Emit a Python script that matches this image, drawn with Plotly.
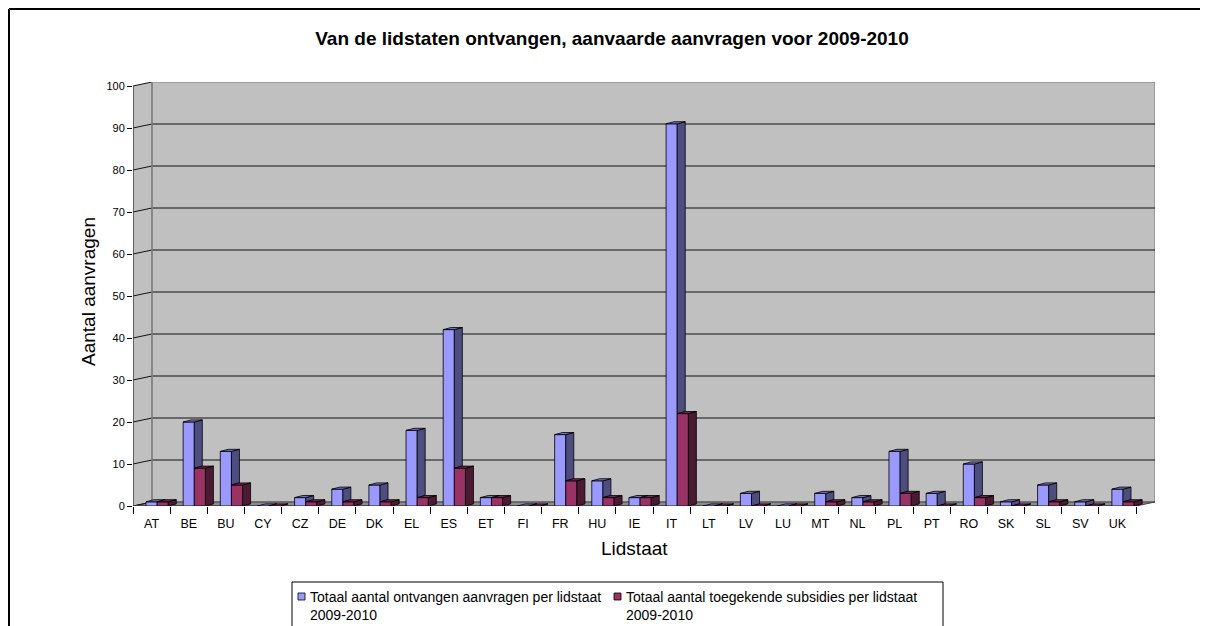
import plotly.graph_objects as go

# ---------------- data ----------------
categories = ["AT", "BE", "BU", "CY", "CZ", "DE", "DK", "EL", "ES", "ET", "FI", "FR", "HU", "IE",
              "IT", "LT", "LV", "LU", "MT", "NL", "PL", "PT", "RO", "SK", "SL", "SV", "UK"]
ontvangen = [1, 20, 13, 0, 2, 4, 5, 18, 42, 2, 0, 17, 6, 2, 91, 0, 3, 0, 3, 2, 13, 3, 10, 1, 5, 1, 4]
toegekend = [1, 9, 5, 0, 1, 1, 1, 2, 9, 2, 0, 6, 2, 2, 22, 0, 0, 0, 1, 1, 3, 0, 2, 0, 1, 0, 1]
y_ticks = list(range(0, 101, 10))
name_ontvangen = "Totaal aantal ontvangen aanvragen per lidstaat<br>2009-2010"
name_toegekend = "Totaal aantal toegekende subsidies per lidstaat<br>2009-2010"
title_text = "<b>Van de lidstaten ontvangen, aanvaarde aanvragen voor 2009-2010</b>"

# ---------------- styling / geometry ----------------
FONT = "Liberation Sans, Arial, sans-serif"
S = 8                                    # page body margin offset
W, H = 1208 - S, 626 - S
L, R, T, B = 133 - S, 1155 - S, 82 - S, 506 - S   # plot area in figure pixels
n = len(categories)
x_lo, x_front_hi = -0.5, n - 0.5
px_per_x = (1137 - 133) / n
dxw = 19 / px_per_x                      # depth offset of the back wall
y_top = 100
px_per_y = 420 / y_top
dyw = 4 / px_per_y
x_hi = x_front_hi + dxw
y_hi = y_top + dyw
bar_w = 0.30
ddx = 8 / px_per_x                       # depth of the bars
ddy = 2.1 / px_per_y

series = [
    dict(vals=ontvangen, off=-bar_w / 2, name=name_ontvangen,
         front="#9999FF", side="#4D4D80", top="#7373BF", leg_x=298),
    dict(vals=toegekend, off=bar_w / 2, name=name_toegekend,
         front="#993366", side="#4D1A33", top="#732650", leg_x=614),
]

fig = go.Figure()
# front faces as bars
for s in series:
    fig.add_trace(go.Bar(
        x=[i + s["off"] + bar_w / 2 for i in range(n)], y=s["vals"], width=bar_w,
        base=0, name=s["name"].replace("<br>", " "),
        marker=dict(color=s["front"], line=dict(color="black", width=0.8)),
        hoverinfo="skip", showlegend=False))

# side and top faces (drawn above the bar layer)
for k, s in enumerate(series):
    nxt = series[k + 1]["vals"] if k + 1 < len(series) else [0] * n
    sx, sy, tx, ty = [], [], [], []
    for i, v in enumerate(s["vals"]):
        xa = i + s["off"]
        xb = xa + bar_w
        lo = nxt[i] if k + 1 < len(series) else 0
        if v >= lo:
            sx += [xb, xb + ddx, xb + ddx, xb, xb, None]
            sy += [lo, lo + ddy, v + ddy, v, lo, None]
        tx += [xa, xb, xb + ddx, xa + ddx, xa, None]
        ty += [v, v, v + ddy, v + ddy, v, None]
    fig.add_trace(go.Scatter(x=sx, y=sy, fill="toself", fillcolor=s["side"], mode="lines",
                             line=dict(color="black", width=0.8), showlegend=False,
                             hoverinfo="skip"))
    fig.add_trace(go.Scatter(x=tx, y=ty, fill="toself", fillcolor=s["top"], mode="lines",
                             line=dict(color="black", width=0.8), showlegend=False,
                             hoverinfo="skip"))

shapes = []
wall = "#C0C0C0"
shapes.append(dict(type="path", xref="x", yref="y", layer="below",
                   path=f"M {x_lo},0 L {x_lo},{y_top} L {x_lo+dxw},{y_hi} L {x_lo+dxw},{dyw} Z",
                   fillcolor=wall, line=dict(width=0)))
shapes.append(dict(type="rect", xref="x", yref="y", layer="below",
                   x0=x_lo + dxw, x1=x_hi, y0=dyw, y1=y_hi,
                   fillcolor=wall, line=dict(color="#808080", width=1.2)))
shapes.append(dict(type="path", xref="x", yref="y", layer="below",
                   path=f"M {x_lo},0 L {x_front_hi},0 L {x_hi},{dyw} L {x_lo+dxw},{dyw} Z",
                   fillcolor="#8C8C8C", line=dict(color="#404040", width=1)))
for v in y_ticks:
    if 0 < v < y_top:
        shapes.append(dict(type="line", xref="x", yref="y", layer="below",
                           x0=x_lo + dxw, x1=x_hi, y0=v + dyw, y1=v + dyw,
                           line=dict(color="#111111", width=1)))
    shapes.append(dict(type="line", xref="x", yref="y", layer="below",
                       x0=x_lo, x1=x_lo + dxw, y0=v, y1=v + dyw,
                       line=dict(color="#111111", width=1)))
shapes.append(dict(type="line", xref="x", yref="y", layer="below",
                   x0=x_lo + dxw, x1=x_lo + dxw, y0=dyw, y1=y_hi,
                   line=dict(color="#808080", width=1.5)))
shapes.append(dict(type="line", xref="x", yref="y", layer="below",
                   x0=x_lo, x1=x_lo, y0=0, y1=y_top,
                   line=dict(color="#404040", width=1.5)))
shapes.append(dict(type="line", xref="x", yref="y", layer="below",
                   x0=x_lo, x1=x_front_hi, y0=0, y1=0,
                   line=dict(color="#404040", width=1.5)))


def pxp(px):
    """screen x pixel -> paper x"""
    return (px - S - L) / (R - L)


def pyp(py):
    """screen y pixel -> paper y"""
    return (B - (py - S)) / (B - T)


# outer chart border (top and left edges visible)
shapes.append(dict(type="line", xref="paper", yref="paper", x0=pxp(9), x1=pxp(1300),
                   y0=pyp(9), y1=pyp(9), line=dict(color="black", width=2)))
shapes.append(dict(type="line", xref="paper", yref="paper", x0=pxp(9), x1=pxp(9),
                   y0=pyp(9), y1=pyp(700), line=dict(color="black", width=2)))

annotations = [
    dict(text="Aantal aanvragen", xref="paper", yref="paper", x=pxp(88), y=pyp(292),
         textangle=-90, showarrow=False, font=dict(family=FONT, size=19, color="black"),
         xanchor="center", yanchor="middle"),
    dict(text="Lidstaat", xref="paper", yref="paper", x=pxp(634), y=pyp(548),
         showarrow=False, font=dict(family=FONT, size=19, color="black"),
         xanchor="center", yanchor="middle"),
]

# legend box (drawn as shapes + text so its layout matches the original)
shapes.append(dict(type="rect", xref="paper", yref="paper", x0=pxp(292), x1=pxp(943),
                   y0=pyp(582), y1=pyp(640), fillcolor="white",
                   line=dict(color="black", width=1)))
for s in series:
    shapes.append(dict(type="rect", xref="paper", yref="paper",
                       x0=pxp(s["leg_x"]), x1=pxp(s["leg_x"] + 7),
                       y0=pyp(593), y1=pyp(600), fillcolor=s["front"],
                       line=dict(color="black", width=0.8)))
    annotations.append(dict(text=s["name"], xref="paper", yref="paper",
                            x=pxp(s["leg_x"] + 10), y=pyp(587), xanchor="left",
                            yanchor="top", align="left", showarrow=False,
                            font=dict(family=FONT, size=14, color="black")))

fig.update_layout(
    width=W, height=H,
    margin=dict(l=L, r=W - R, t=T, b=H - B, autoexpand=False),
    paper_bgcolor="white", plot_bgcolor="rgba(0,0,0,0)",
    font=dict(family=FONT, color="black"),
    barmode="overlay",
    title=dict(text=title_text, x=pxp(612), xref="paper", xanchor="center",
               y=1 - (38 - S) / H, yref="container", yanchor="middle",
               font=dict(family=FONT, size=19, color="black")),
    shapes=shapes, annotations=annotations,
    showlegend=False,
    xaxis=dict(range=[x_lo, x_hi], tickmode="array", tickvals=list(range(n)),
               ticktext=categories, ticks="", showgrid=False, zeroline=False,
               showline=False, tickfont=dict(family=FONT, size=12.5, color="black"),
               ticklabelstandoff=8,
               minor=dict(tickmode="array", tickvals=[i - 0.5 for i in range(n + 1)],
                          ticks="outside", ticklen=7, tickcolor="black", showgrid=False)),
    yaxis=dict(range=[0, y_hi], tickmode="array", tickvals=y_ticks,
               ticks="outside", ticklen=5, tickcolor="black", showgrid=False,
               zeroline=False, showline=False,
               tickfont=dict(family=FONT, size=11, color="black")),
)

fig.write_html("out.html")
